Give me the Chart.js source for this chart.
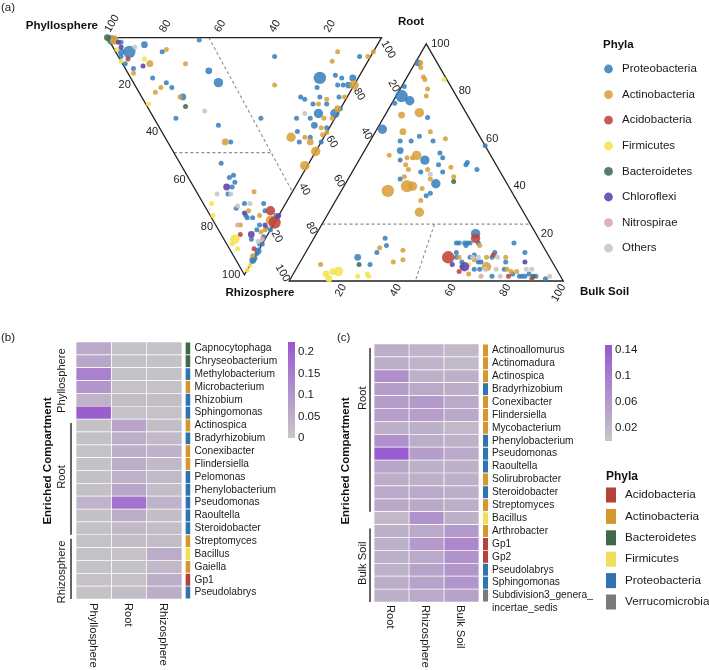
<!DOCTYPE html>
<html>
<head>
<meta charset="utf-8">
<script src="https://cdn.jsdelivr.net/npm/chart.js@4.4.1/dist/chart.umd.min.js"></script>
<style>
  html, body { margin: 0; padding: 0; background: #fff; }
  #wrap { position: relative; width: 709px; height: 670px; }
  #wrap canvas { position: absolute; left: 0; top: 0; }
</style>
</head>
<body>
<div id="wrap">
  <canvas id="ternary" width="709" height="670"></canvas>
  <canvas id="heatB" width="709" height="670"></canvas>
  <canvas id="heatC" width="709" height="670"></canvas>
</div>
<script>
const FONT = "'Liberation Sans', Arial, Helvetica, sans-serif";

// ---------- panel (a): ternary plots ----------
const legendPhylaA = ['Proteobacteria', 'Actinobacteria', 'Acidobacteria', 'Firmicutes',
  'Bacteroidetes', 'Chloroflexi', 'Nitrospirae', 'Others'];
const legendCodesA = ['B', 'A', 'R', 'F', 'G', 'C', 'N', 'O'];

// [phylum, Phyllosphere %, Root %, Rhizosphere %, size class]
const leftPoints = [
  ['G',100,0,0,2], ['B',98,1,1,3], ['A',97,2,1,3], ['B',89,5,6,4], ['B',92,2,6,2],
  ['B',94,4,2,1], ['C',95,3,2,1], ['C',93,3,4,1], ['F',94,1,5,1], ['O',88,8,4,1], ['R',88,3,9,1],
  ['B',91,1,8,1], ['F',90,0,10,1], ['B',88,1,11,1], ['F',82,9,9,1], ['B',85,12,3,2],
  ['A',76,19,5,1], ['B',77,17,6,1], ['A',79,10,11,2], ['C',81,7,12,1], ['B',84,3,13,1],
  ['A',83,2,15,1], ['A',66,23,11,1], ['B',66,33,1,1], ['B',56,30,14,2], ['B',50,31,19,3],
  ['B',75,8,17,1], ['B',69,12,19,1], ['B',66,13,21,1], ['A',70,9,21,1], ['A',71,6,23,1],
  ['A',61,14,25,1], ['B',60,15,25,2], ['F',71,1,28,1], ['G',57,14,29,1], ['O',49,20,31,1],
  ['B',58,8,34,1], ['B',41,22,37,1], ['B',27,39,34,1], ['A',35,21,44,2], ['B',33,23,44,1],
  ['B',35,57,8,1], ['A',29,51,20,1],
  ['B',14,69,17,4], ['B',13,66,21,1], ['B',9,76,16,1], ['B',6,77,17,1], ['B',6,74,20,1],
  ['B',4,76,20,1], ['B',2,81,17,2], ['B',2,78,20,2], ['A',0,80,20,3], ['A',1,74,25,1],
  ['B',3,72,25,1], ['A',13,81,6,1], ['A',13,77,10,1], ['B',4,88,8,1], ['A',1,91,8,1],
  ['A',0,94,6,1], ['B',17,58,25,1], ['B',15,59,26,1], ['B',10,65,25,1], ['A',7,67,26,1],
  ['B',11,61,28,1], ['A',9,63,28,1], ['B',6,66,28,1], ['B',0,70,30,1], ['B',1,67,32,3],
  ['B',7,61,32,3], ['O',12,56,32,1], ['B',9,57,34,1], ['B',6,57,37,2], ['A',4,62,34,1],
  ['A',1,65,34,1], ['A',1,69,30,2], ['B',14,52,34,1], ['A',3,59,38,1], ['B',1,61,38,1],
  ['A',1,58,41,1], ['A',0,60,40,1], ['B',11,50,40,1], ['A',12,46,42,3], ['B',8,48,44,1],
  ['A',7,51,42,1], ['B',5,53,42,1], ['A',4,52,44,2], ['B',0,56,44,1], ['A',0,52,48,3],
  ['A',1,45,54,3],
  ['B',32,15,53,1], ['B',26,15,59,1], ['B',25,17,58,1], ['B',23,16,61,1], ['C',25,12,63,2],
  ['B',23,14,63,1], ['O',22,12,66,1], ['O',27,7,66,1], ['B',23,11,66,1], ['A',14,21,65,1],
  ['F',27,3,70,1], ['O',13,17,70,1], ['B',15,15,70,1], ['O',17,12,71,1], ['B',17,11,72,1],
  ['B',8,22,70,1], ['A',12,15,73,1], ['C',13,13,74,1], ['B',12,13,75,1], ['F',24,1,75,1],
  ['B',11,13,76,1], ['B',9,15,76,1], ['A',7,18,75,1], ['B',6,21,73,1], ['R',4,23,73,3],
  ['B',1,24,75,1], ['C',0,25,75,1], ['A',2,21,77,3], ['R',0,22,78,4], ['B',0,24,76,1],
  ['A',12,9,79,1], ['N',13,8,79,1], ['B',5,14,81,1], ['B',5,16,79,1], ['C',3,18,79,1],
  ['B',2,18,81,1], ['A',2,17,81,1], ['B',0,19,81,1], ['F',11,4,85,3], ['F',11,2,87,1],
  ['R',10,7,83,1], ['C',6,11,83,2], ['B',5,10,85,1], ['A',3,15,82,1], ['N',1,14,85,1],
  ['O',2,12,86,1], ['B',1,15,84,1], ['B',0,13,87,1], ['F',8,3,89,1], ['R',2,9,89,1],
  ['B',1,12,87,1], ['B',0,10,90,2], ['B',0,9,91,1], ['B',0,7,93,2], ['B',0,6,94,2],
  ['A',1,7,92,1], ['F',0,4,96,1], ['F',0,2,98,1]
];

// [phylum, Root %, Rhizosphere %, Bulk Soil %, size class]
const rightPoints = [
  ['B',92,7,1,2], ['A',92,6,2,1], ['A',90,7,3,1], ['A',86,8,6,1], ['A',85,8,7,1],
  ['F',85,1,14,1], ['A',81,9,10,1], ['A',78,11,11,1], ['B',82,17,1,1], ['B',78,20,2,4],
  ['B',76,18,6,3], ['B',75,24,1,1], ['A',70,24,6,2], ['A',71,17,12,3], ['B',69,15,16,1],
  ['A',63,17,20,1], ['B',64,34,2,3], ['A',63,27,10,2], ['B',61,22,17,1], ['B',59,18,23,1],
  ['A',60,13,27,1], ['B',59,30,11,1], ['B',59,26,15,1], ['B',57,0,43,1], ['B',55,32,13,2],
  ['A',53,37,10,1], ['A',53,27,20,3], ['B',51,25,24,3], ['A',52,29,19,1], ['B',54,18,28,1],
  ['B',52,18,30,1], ['B',50,10,40,1], ['B',51,34,15,1], ['A',52,31,17,1], ['B',49,21,30,1],
  ['A',48,17,35,1], ['B',49,11,40,1], ['B',47,8,45,1], ['A',49,33,18,1], ['A',47,33,20,1],
  ['B',46,29,25,1], ['A',47,26,27,1], ['B',46,21,33,1], ['A',44,18,38,1], ['G',42,19,39,1],
  ['A',44,36,20,1], ['B',43,38,19,1], ['O',45,26,29,1], ['A',43,27,30,1], ['B',41,26,33,3],
  ['A',40,37,23,4], ['A',40,35,25,3], ['A',39,32,29,1], ['A',38,45,17,4], ['B',37,30,33,1],
  ['B',36,32,32,1], ['A',34,35,31,1], ['A',29,38,33,3],
  ['B',18,56,26,1], ['B',15,57,28,1], ['A',14,60,26,1], ['B',12,62,26,1], ['A',13,52,35,1],
  ['A',9,54,37,1], ['A',8,58,34,1], ['B',10,70,20,2], ['B',7,67,26,1], ['G',7,71,22,1],
  ['A',7,85,8,1], ['F',4,80,16,3], ['F',4,82,14,2], ['F',3,85,12,2], ['F',1,85,14,2],
  ['F',2,74,24,1], ['F',3,70,27,1], ['F',2,70,28,1],
  ['B',20,22,58,3], ['R',18,23,59,3], ['B',16,31,53,1], ['B',16,30,54,1], ['B',16,28,56,1],
  ['B',16,27,57,1], ['B',16,26,58,1], ['B',16,23,61,1], ['B',15,28,57,1], ['B',12,33,55,1],
  ['A',15,23,62,1], ['B',16,10,74,1], ['R',10,37,53,4], ['B',10,34,56,1], ['A',10,33,57,1],
  ['C',7,37,56,1], ['B',8,33,59,1], ['B',10,29,61,1], ['O',10,28,62,1], ['B',11,27,62,1],
  ['O',10,26,64,1], ['A',9,28,63,1], ['B',8,26,66,1], ['A',10,23,67,1], ['B',10,21,69,1],
  ['R',11,20,69,1], ['B',12,19,69,1], ['O',10,19,71,1], ['A',10,16,74,1], ['B',8,17,75,1],
  ['B',12,8,80,1], ['C',8,10,82,1], ['C',6,33,61,3], ['F',7,31,62,1], ['B',6,34,60,1],
  ['R',4,36,60,1], ['A',3,33,64,1], ['B',5,30,65,1], ['A',6,25,69,3], ['O',5,26,69,1],
  ['B',5,28,67,1], ['N',2,29,69,1], ['O',5,22,73,1], ['B',5,19,76,1], ['O',2,22,76,1],
  ['A',5,18,77,1], ['R',2,19,79,1], ['B',3,17,80,1], ['A',4,15,81,1], ['B',2,15,83,1],
  ['O',5,11,84,1], ['O',5,9,86,1], ['B',2,14,84,1], ['B',2,13,85,1], ['R',1,11,88,1],
  ['B',2,9,89,1], ['B',1,6,93,1], ['O',2,4,94,1], ['B',2,25,73,1], ['B',3,11,86,1],
  ['A',4,17,79,1], ['B',8,27,65,1], ['G',2,10,88,1]
];

const ternTicks = [20, 40, 60, 80, 100];
// enrichment thresholds (dashed), as pairs of compositions
const leftDashes = [[[63, 37, 0], [0, 35, 65]], [[51.5, 0, 48.5], [16, 35.5, 48.5]]];
const rightDashes = [[[24, 76, 0], [24, 0, 76]], [[24, 35, 41], [0, 54, 46]]];

// ---------- panel (b) ----------
const bColumns = ['Phyllosphere', 'Root', 'Rhizosphere'];
const bGenera = ['Capnocytophaga', 'Chryseobacterium', 'Methylobacterium', 'Microbacterium',
  'Rhizobium', 'Sphingomonas', 'Actinospica', 'Bradyrhizobium', 'Conexibacter', 'Flindersiella',
  'Pelomonas', 'Phenylobacterium', 'Pseudomonas', 'Raoultella', 'Steroidobacter', 'Streptomyces',
  'Bacillus', 'Gaiella', 'Gp1', 'Pseudolabrys'];
const bPhyla = ['Bacteroidetes', 'Bacteroidetes', 'Proteobacteria', 'Actinobacteria',
  'Proteobacteria', 'Proteobacteria', 'Actinobacteria', 'Proteobacteria', 'Actinobacteria',
  'Actinobacteria', 'Proteobacteria', 'Proteobacteria', 'Proteobacteria', 'Proteobacteria',
  'Proteobacteria', 'Actinobacteria', 'Firmicutes', 'Actinobacteria', 'Acidobacteria',
  'Proteobacteria'];
const bPhyllosphere = [0.06, 0.065, 0.14, 0.1, 0.04, 0.21, 0.01, 0.015, 0.01, 0.01,
  0.015, 0.015, 0.04, 0.015, 0.01, 0.01, 0.01, 0.01, 0.01, 0.01];
const bRoot = [0.01, 0.01, 0.01, 0.01, 0.02, 0.01, 0.07, 0.05, 0.05, 0.05,
  0.045, 0.065, 0.17, 0.05, 0.03, 0.02, 0.01, 0.01, 0.01, 0.02];
const bRhizosphere = [0.01, 0.01, 0.01, 0.01, 0.02, 0.01, 0.02, 0.03, 0.045, 0.03,
  0.03, 0.02, 0.04, 0.02, 0.02, 0.025, 0.055, 0.03, 0.05, 0.05];
const bScaleTicks = [0, 0.05, 0.1, 0.15, 0.2];
const bScaleMax = 0.223;

// ---------- panel (c) ----------
const cColumns = ['Root', 'Rhizosphere', 'Bulk Soil'];
const cGenera = ['Actinoallomurus', 'Actinomadura', 'Actinospica', 'Bradyrhizobium',
  'Conexibacter', 'Flindersiella', 'Mycobacterium', 'Phenylobacterium', 'Pseudomonas',
  'Raoultella', 'Solirubrobacter', 'Steroidobacter', 'Streptomyces', 'Bacillus', 'Arthrobacter',
  'Gp1', 'Gp2', 'Pseudolabrys', 'Sphingomonas', 'Subdivision3_genera_\nincertae_sedis'];
const cPhyla = ['Actinobacteria', 'Actinobacteria', 'Actinobacteria', 'Proteobacteria',
  'Actinobacteria', 'Actinobacteria', 'Actinobacteria', 'Proteobacteria', 'Proteobacteria',
  'Proteobacteria', 'Actinobacteria', 'Proteobacteria', 'Actinobacteria', 'Firmicutes',
  'Actinobacteria', 'Acidobacteria', 'Acidobacteria', 'Proteobacteria', 'Proteobacteria',
  'Verrucomicrobia'];
const cRoot = [0.035, 0.035, 0.075, 0.055, 0.055, 0.055, 0.03, 0.075, 0.14, 0.045,
  0.035, 0.04, 0.04, 0.02, 0.03, 0.03, 0.03, 0.03, 0.035, 0.03];
const cRhizosphere = [0.025, 0.025, 0.03, 0.04, 0.06, 0.055, 0.03, 0.035, 0.055, 0.03,
  0.03, 0.04, 0.04, 0.07, 0.04, 0.06, 0.04, 0.05, 0.05, 0.04];
const cBulkSoil = [0.02, 0.02, 0.03, 0.035, 0.04, 0.04, 0.02, 0.03, 0.04, 0.03,
  0.03, 0.035, 0.035, 0.03, 0.06, 0.085, 0.07, 0.065, 0.065, 0.05];
const cScaleTicks = [0.02, 0.06, 0.1, 0.14];
const cScaleMax = 0.148;
const cLegendPhyla = ['Acidobacteria', 'Actinobacteria', 'Bacteroidetes', 'Firmicutes',
  'Proteobacteria', 'Verrucomicrobia'];

// ---------- styles ----------
const pointColors = {
  B: 'rgba(54,126,189,0.86)', A: 'rgba(217,159,55,0.86)', R: 'rgba(190,64,56,0.86)',
  F: 'rgba(246,227,78,0.9)', G: 'rgba(70,112,84,0.9)', C: 'rgba(96,70,172,0.9)',
  N: 'rgba(222,170,166,0.9)', O: 'rgba(200,200,200,0.9)'
};
const sizeRadius = [0, 2.5, 3.4, 4.7, 6.2];
const heatPhylumColor = {
  Acidobacteria: '#b3423a', Actinobacteria: '#d4982f', Bacteroidetes: '#3e6a49',
  Firmicutes: '#f1de58', Proteobacteria: '#2f73b0', Verrucomicrobia: '#7a7a7a'
};
const lowRGB = [199, 199, 199];
const highRGB = [152, 88, 208];

function cellColor(v, max) {
  const t = Math.max(0, Math.min(1, v / max));
  const c = lowRGB.map((l, i) => Math.round(l + (highRGB[i] - l) * t));
  return `rgb(${c[0]},${c[1]},${c[2]})`;
}

function drawText(ctx, str, x, y, o = {}) {
  ctx.save();
  ctx.font = `${o.bold ? 'bold ' : ''}${o.size || 11}px ${FONT}`;
  ctx.fillStyle = o.color || '#1a1a1a';
  ctx.textAlign = o.align || 'left';
  ctx.textBaseline = o.baseline || 'middle';
  ctx.translate(x, y);
  if (o.rot) ctx.rotate(o.rot * Math.PI / 180);
  ctx.fillText(str, 0, 0);
  ctx.restore();
}

// triangle geometry (page units); vertices in the order of the stored compositions
const leftTri = [[103, 32], [382, 32], [242.5, 273.6]];   // Phyllosphere, Root, Rhizosphere
const rightTri = [[427.5, 38.4], [288, 280], [567, 280]]; // Root, Rhizosphere, Bulk Soil

function ternXY(verts, comp) {
  const s = comp[0] + comp[1] + comp[2];
  return {
    x: (verts[0][0] * comp[0] + verts[1][0] * comp[1] + verts[2][0] * comp[2]) / s,
    y: (verts[0][1] * comp[0] + verts[1][1] * comp[1] + verts[2][1] * comp[2]) / s
  };
}

const leftAxes = [
  { comp: t => [t, 100 - t, 0], rot: -60, align: 'left', dx: 0, dy: -6 },
  { comp: t => [100 - t, 0, t], rot: 0, align: 'right', dx: -4, dy: 0 },
  { comp: t => [0, t, 100 - t], rot: 60, align: 'left', dx: 2, dy: 4 }
];
const rightAxes = [
  { comp: t => [t, 0, 100 - t], rot: 0, align: 'left', dx: 5, dy: 0 },
  { comp: t => [100 - t, t, 0], rot: 60, align: 'right', dx: -2, dy: 0 },
  { comp: t => [0, 100 - t, t], rot: -60, align: 'right', dx: 0, dy: 4 }
];

const ternaryPlugin = {
  id: 'ternaryFrame',
  beforeDatasetsDraw(chart) {
    const { ctx, scales: { x, y } } = chart;
    const px = p => [x.getPixelForValue(p.x), y.getPixelForValue(p.y)];
    [[leftTri, leftDashes], [rightTri, rightDashes]].forEach(([verts, dashes]) => {
      ctx.save();
      ctx.strokeStyle = '#8e8e8e';
      ctx.lineWidth = 1.1;
      ctx.setLineDash([3, 2.5]);
      dashes.forEach(([a, b]) => {
        const p = px(ternXY(verts, a)), q = px(ternXY(verts, b));
        ctx.beginPath(); ctx.moveTo(p[0], p[1]); ctx.lineTo(q[0], q[1]); ctx.stroke();
      });
      ctx.setLineDash([]);
      ctx.strokeStyle = '#222';
      ctx.lineWidth = 1.3;
      ctx.beginPath();
      verts.forEach((v, i) => {
        const p = [x.getPixelForValue(v[0]), y.getPixelForValue(v[1])];
        i ? ctx.lineTo(p[0], p[1]) : ctx.moveTo(p[0], p[1]);
      });
      ctx.closePath();
      ctx.stroke();
      ctx.restore();
    });
  },
  afterDatasetsDraw(chart) {
    const { ctx, scales: { x, y } } = chart;
    [[leftTri, leftAxes], [rightTri, rightAxes]].forEach(([verts, axes]) => {
      axes.forEach(ax => {
        ternTicks.forEach(t => {
          const p = ternXY(verts, ax.comp(t));
          drawText(ctx, String(t), x.getPixelForValue(p.x) + ax.dx, y.getPixelForValue(p.y) + ax.dy,
            { size: 11, align: ax.align, rot: ax.rot, color: '#222' });
        });
      });
    });
    const bold = { bold: true, size: 11.5, color: '#111' };
    drawText(ctx, 'Phyllosphere', 98, 25.5, { ...bold, align: 'right' });
    drawText(ctx, 'Root', 411, 22, { ...bold, align: 'center' });
    drawText(ctx, 'Rhizosphere', 260, 293, { ...bold, align: 'center' });
    drawText(ctx, 'Bulk Soil', 580, 292, { ...bold, align: 'left' });
    drawText(ctx, '(a)', 1, 8, { size: 11.5 });

    // legend
    drawText(ctx, 'Phyla', 603, 45, { ...bold });
    legendPhylaA.forEach((name, i) => {
      const cy = 69 + i * 25.6;
      ctx.save();
      ctx.fillStyle = pointColors[legendCodesA[i]];
      ctx.beginPath(); ctx.arc(608.5, cy, 4.4, 0, Math.PI * 2); ctx.fill();
      ctx.restore();
      drawText(ctx, name, 622, cy, { size: 11.5 });
    });
  }
};

const ternDatasets = legendCodesA.map(code => {
  const pts = [];
  leftPoints.filter(p => p[0] === code).forEach(p => {
    const q = ternXY(leftTri, [p[1], p[2], p[3]]);
    pts.push({ x: q.x, y: q.y, s: p[4] });
  });
  rightPoints.filter(p => p[0] === code).forEach(p => {
    const q = ternXY(rightTri, [p[1], p[2], p[3]]);
    pts.push({ x: q.x, y: q.y, s: p[4] });
  });
  return {
    label: code,
    data: pts,
    backgroundColor: pointColors[code],
    pointBackgroundColor: pointColors[code],
    borderWidth: 0,
    pointBorderWidth: 0,
    pointRadius: ctx => (ctx.raw ? sizeRadius[ctx.raw.s] : 3)
  };
});

new Chart(document.getElementById('ternary'), {
  type: 'scatter',
  data: { datasets: ternDatasets.reverse() },
  options: {
    responsive: false,
    animation: false,
    events: [],
    layout: { padding: 0 },
    plugins: { legend: { display: false }, tooltip: { enabled: false } },
    scales: {
      x: { type: 'linear', min: 0, max: 709, display: false },
      y: { type: 'linear', min: 0, max: 670, reverse: true, display: false }
    }
  },
  plugins: [ternaryPlugin]
});

// ---------- heatmaps ----------
function heatmap(id, cfg) {
  const L = cfg.layout;
  const columnSets = cfg.values.map((vals, c) => ({
    data: vals.map(() => [c, c + 1]),
    backgroundColor: vals.map(v => cellColor(v, cfg.max)),
    borderColor: '#ffffff',
    borderWidth: 0.7,
    borderSkipped: false,
    grouped: false,
    barPercentage: 1,
    categoryPercentage: 1
  }));
  const phylumBar = {
    data: cfg.phyla.map(() => L.bar),
    backgroundColor: cfg.phyla.map(p => heatPhylumColor[p]),
    borderColor: '#ffffff',
    borderWidth: { top: 0.8, bottom: 0.8, left: 0, right: 0 },
    borderSkipped: false,
    grouped: false,
    barPercentage: 1,
    categoryPercentage: 1
  };
  const labels = cfg.genera.map(g => (g.includes('\n') ? ['', ...g.split('\n')] : g));

  const deco = {
    id: 'heatDeco',
    afterDraw(chart) {
      const { ctx, scales: { x, y } } = chart;
      const band = y.getPixelForValue(1) - y.getPixelForValue(0);
      // column labels
      cfg.columns.forEach((name, c) => {
        drawText(ctx, name, x.getPixelForValue(c + 0.5) - 1, L.xLabelTop, { size: 11.2, rot: 90 });
      });
      // compartment groups
      cfg.groups.forEach(g => {
        const top = y.getPixelForValue(g.first) - band / 2;
        const bot = y.getPixelForValue(g.last) + band / 2;
        const cy = g.at !== undefined ? y.getPixelForValue(g.at) : (top + bot) / 2;
        drawText(ctx, g.name, L.groupX, cy, { size: 11.2, rot: -90, align: 'center' });
        if (g.line) {
          ctx.save();
          ctx.strokeStyle = '#111';
          ctx.lineWidth = 1.3;
          ctx.beginPath(); ctx.moveTo(L.lineX, top + 4); ctx.lineTo(L.lineX, bot); ctx.stroke();
          ctx.restore();
        }
      });
      drawText(ctx, 'Enriched Compartment', L.titleX, 461, { bold: true, size: 11.5, rot: -90, align: 'center', color: '#111' });
      drawText(ctx, cfg.letter, L.letterX, 338, { size: 11.5 });

      // colour scale
      const s = L.scale;
      const grad = ctx.createLinearGradient(0, s.y0, 0, s.y1);
      [0, 0.25, 0.5, 0.75, 1].forEach(f => grad.addColorStop(f, cellColor(f * cfg.max, cfg.max)));
      ctx.fillStyle = grad;
      ctx.fillRect(s.x, s.y1, s.w, s.y0 - s.y1);
      cfg.ticks.forEach(v => {
        const ty = s.y0 - (v / cfg.max) * (s.y0 - s.y1);
        drawText(ctx, String(v), s.x + s.w + 3, ty, { size: 11.5 });
      });

      // phylum legend
      if (cfg.legend) {
        drawText(ctx, 'Phyla', 606, 477, { bold: true, size: 12, color: '#111' });
        cfg.legend.forEach((name, i) => {
          const cy = 495 + i * 21.4;
          ctx.fillStyle = heatPhylumColor[name];
          ctx.fillRect(606, cy - 7.5, 10, 15);
          drawText(ctx, name, 625, cy, { size: 11.7 });
        });
      }
    }
  };

  new Chart(document.getElementById(id), {
    type: 'bar',
    data: { labels, datasets: [...columnSets, phylumBar] },
    options: {
      responsive: false,
      animation: false,
      events: [],
      indexAxis: 'y',
      layout: { padding: { left: L.left, top: L.top, bottom: 670 - L.bottom, right: 0 } },
      plugins: { legend: { display: false }, tooltip: { enabled: false } },
      scales: {
        x: { type: 'linear', min: 0, max: L.xMax, display: false },
        y: {
          type: 'category',
          position: 'right',
          grid: { display: false, drawTicks: false },
          border: { display: false },
          ticks: { autoSkip: false, padding: 4, color: '#1a1a1a', font: { family: FONT, size: 10.2 } },
          afterFit: sc => { sc.width = 709 - L.barEnd; }
        }
      }
    },
    plugins: [deco]
  });
}

heatmap('heatB', {
  columns: bColumns,
  genera: bGenera,
  phyla: bPhyla,
  values: [bPhyllosphere, bRoot, bRhizosphere],
  max: bScaleMax,
  ticks: bScaleTicks,
  letter: '(b)',
  groups: [
    { name: 'Phyllosphere', first: 0, last: 5, line: false },
    { name: 'Root', first: 6, last: 14, line: true },
    { name: 'Rhizosphere', first: 15, last: 19, line: true, at: 17.4 }
  ],
  layout: {
    left: 76, top: 342, bottom: 599, barEnd: 190.5, xMax: 3.24, bar: [3.10, 3.24],
    xLabelTop: 603, groupX: 62, lineX: 71, titleX: 48, letterX: 1,
    scale: { x: 288, w: 7, y0: 438, y1: 342 }
  }
});

heatmap('heatC', {
  columns: cColumns,
  genera: cGenera,
  phyla: cPhyla,
  values: [cRoot, cRhizosphere, cBulkSoil],
  max: cScaleMax,
  ticks: cScaleTicks,
  letter: '(c)',
  legend: cLegendPhyla,
  groups: [
    { name: 'Root', first: 0, last: 12, line: true, at: 3.7 },
    { name: 'Bulk Soil', first: 14, last: 19, line: true }
  ],
  layout: {
    left: 374, top: 344, bottom: 602, barEnd: 488, xMax: 3.257, bar: [3.114, 3.257],
    xLabelTop: 605, groupX: 363, lineX: 370, titleX: 346, letterX: 337,
    scale: { x: 605, w: 7, y0: 441, y1: 345 }
  }
});
</script>
</body>
</html>
